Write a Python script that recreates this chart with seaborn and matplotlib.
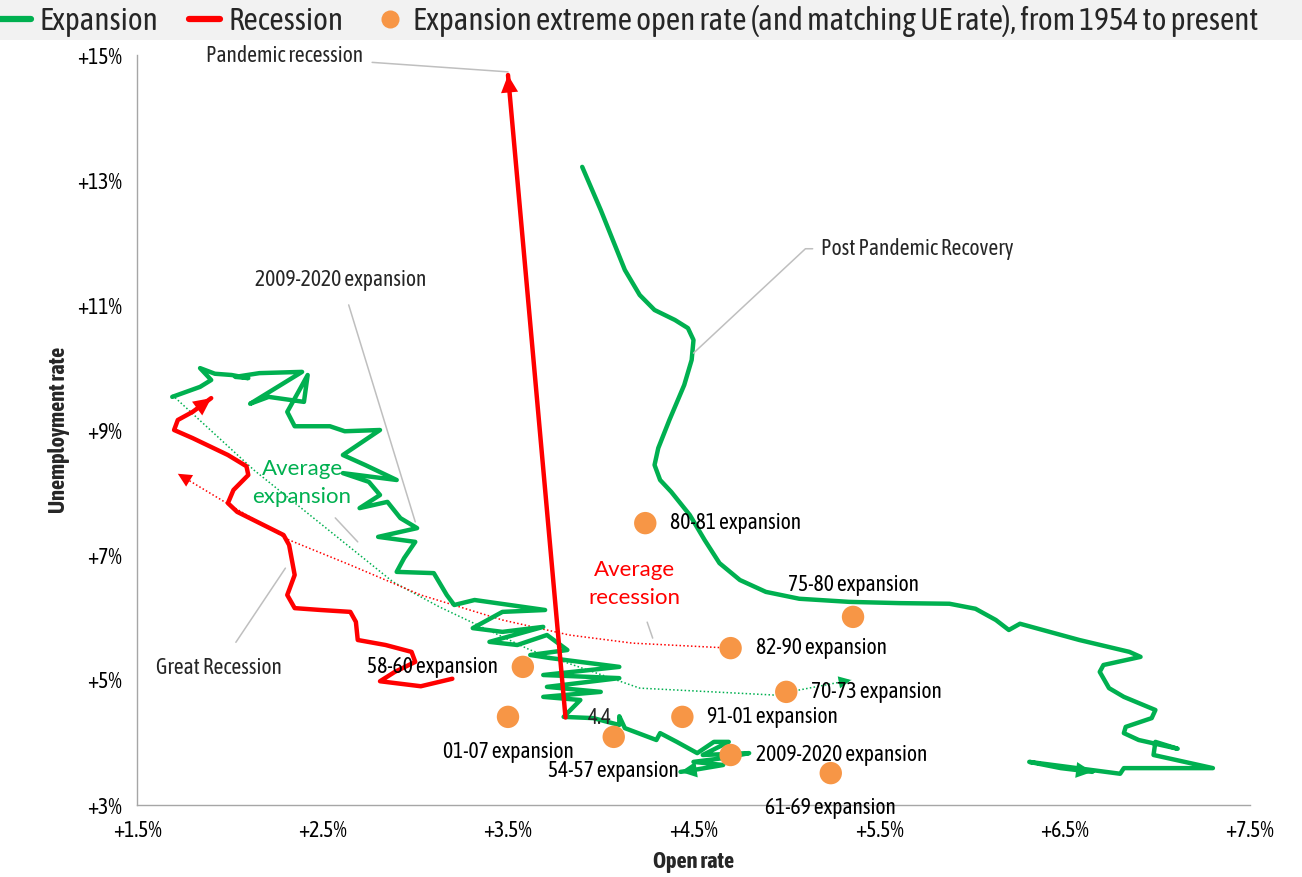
import matplotlib
matplotlib.use("Agg")
import matplotlib.pyplot as plt
from matplotlib import font_manager
from matplotlib.lines import Line2D
from matplotlib.patches import Rectangle
import seaborn as sns

# ---------------- data ----------------
# 2009-2020 expansion (open rate %, unemployment rate %)
exp0920_open = [1.69, 1.84, 1.90, 1.84, 1.92, 2.01, 2.10, 2.03, 2.16, 2.39, 2.11, 2.21, 2.40, 2.42,
                2.37, 2.31, 2.35, 2.54, 2.62, 2.81, 2.61, 2.73, 2.90, 2.61, 2.75, 2.81, 2.70, 2.85,
                2.92, 3.01, 2.80, 3.00, 2.94, 2.90, 3.10, 3.17, 3.21, 3.32, 3.70, 3.47, 3.31, 3.47,
                3.69, 3.40, 3.55, 3.71, 3.82, 3.62, 3.73, 4.10, 3.69, 4.10, 3.71, 4.00, 3.69, 3.89,
                3.80, 3.96, 4.10, 4.10, 4.13, 4.30, 4.32, 4.41, 4.52, 4.61, 4.69, 4.55, 4.80, 4.66,
                4.50, 4.66, 4.50, 4.43]
exp0920_ue = [9.53, 9.69, 9.80, 9.99, 9.90, 9.88, 9.83, 9.85, 9.91, 9.93, 9.42, 9.53, 9.45, 9.88,
              9.61, 9.29, 9.06, 9.06, 8.98, 9.00, 8.60, 8.44, 8.20, 8.31, 8.17, 7.96, 7.75, 7.85,
              7.59, 7.43, 7.29, 7.21, 6.95, 6.73, 6.71, 6.36, 6.20, 6.28, 6.12, 6.09, 5.83, 5.77,
              5.85, 5.61, 5.56, 5.72, 5.48, 5.40, 5.35, 5.21, 5.08, 5.03, 4.89, 4.81, 4.73, 4.68,
              4.41, 4.39, 4.28, 4.42, 4.23, 4.04, 4.15, 4.01, 3.83, 4.01, 4.01, 3.80, 3.83, 3.75,
              3.69, 3.64, 3.56, 3.53]

# Post-pandemic recovery
post_open = [3.90, 4.00, 4.13, 4.21, 4.29, 4.40, 4.47, 4.50, 4.49, 4.45, 4.37, 4.31, 4.29, 4.32,
             4.38, 4.48, 4.56, 4.64, 4.75, 4.89, 5.07, 5.34, 5.61, 5.88, 6.02, 6.13, 6.20, 6.26,
             6.58, 6.85, 6.91, 6.71, 6.69, 6.74, 6.82, 6.99, 6.97, 6.83, 6.82, 6.90, 7.11, 6.99,
             6.98, 7.30, 6.82, 6.80, 6.31, 6.48, 6.65]
post_ue = [13.21, 12.52, 11.56, 11.16, 10.92, 10.76, 10.63, 10.44, 10.12, 9.72, 9.16, 8.71, 8.44,
           8.20, 8.01, 7.64, 7.24, 6.87, 6.60, 6.41, 6.30, 6.25, 6.23, 6.22, 6.14, 5.96, 5.80,
           5.90, 5.64, 5.45, 5.37, 5.24, 5.13, 4.87, 4.73, 4.52, 4.39, 4.25, 4.15, 4.04, 3.90,
           4.01, 3.80, 3.59, 3.59, 3.50, 3.69, 3.59, 3.53]

# Great Recession
great_open = [3.20, 3.03, 2.81, 2.89, 3.00, 2.98, 2.84, 2.69, 2.68, 2.65, 2.49, 2.35, 2.31, 2.35,
              2.32, 2.29, 2.04, 1.99, 2.02, 2.10, 2.09, 1.99, 1.80, 1.70, 1.72, 1.80, 1.90]
great_ue = [5.02, 4.90, 4.98, 5.13, 5.29, 5.45, 5.56, 5.64, 5.93, 6.09, 6.12, 6.15, 6.36, 6.68,
            7.16, 7.32, 7.69, 7.83, 8.04, 8.28, 8.42, 8.60, 8.87, 9.00, 9.16, 9.29, 9.51]

# Pandemic recession
pand_open = [3.81, 3.50]
pand_ue = [4.4, 14.68]

# Average paths
avg_exp_open = [1.69, 2.13, 2.88, 3.13, 3.62, 4.21, 4.93, 5.35]
avg_exp_ue = [9.56, 8.36, 6.57, 6.17, 5.48, 4.87, 4.76, 5.00]
avg_rec_open = [4.70, 4.17, 3.83, 3.47, 3.03, 2.65, 2.32, 2.00, 1.72]
avg_rec_ue = [5.51, 5.59, 5.72, 5.96, 6.36, 6.84, 7.24, 7.80, 8.30]

# Expansion extremes
ext_names = ["80-81 expansion", "75-80 expansion", "82-90 expansion", "58-60 expansion",
             "70-73 expansion", "01-07 expansion", "91-01 expansion", "54-57 expansion",
             "2009-2020 expansion", "61-69 expansion"]
ext_open = [4.24, 5.36, 4.70, 3.58, 5.00, 3.50, 4.44, 4.07, 4.70, 5.24]
ext_ue = [7.51, 6.01, 5.51, 5.21, 4.81, 4.41, 4.41, 4.09, 3.80, 3.51]

x_ticks = [1.5, 2.5, 3.5, 4.5, 5.5, 6.5, 7.5]
x_tick_labels = ["+1.5%", "+2.5%", "+3.5%", "+4.5%", "+5.5%", "+6.5%", "+7.5%"]
y_ticks = [3, 5, 7, 9, 11, 13, 15]
y_tick_labels = ["+3%", "+5%", "+7%", "+9%", "+11%", "+13%", "+15%"]

legend_labels = ["Expansion", "Recession",
                 "Expansion extreme open rate (and matching UE rate), from 1954 to present"]

# ---------------- style ----------------
GREEN = "#00b050"
RED = "#ff0000"
ORANGE = "#f79646"
GRAY = "#bfbfbf"
AXIS = "#a6a6a6"
FS = 15.5          # general text size

sns.set_theme(style="white")


def pick_narrow_font():
    """Prefer a narrow / condensed sans face if one is installed."""
    fl = font_manager.fontManager.ttflist
    for f in fl:
        if "Narrow" in f.name and "Liberation" in f.name:
            return f.name, "normal"
    for f in fl:
        if f.name.endswith("Condensed") and "Extra" not in f.name and "Semi" not in f.name:
            return f.name, "normal"
    for f in fl:
        if f.name == "Noto Sans" and str(f.stretch) == "condensed":
            return "Noto Sans", "condensed"
    for f in fl:
        if f.name == "DejaVu Sans" and str(f.stretch) in ("condensed", "semi-condensed"):
            return "DejaVu Sans", f.stretch
    return "Liberation Sans", "normal"


NARROW, STRETCH = pick_narrow_font()
plt.rcParams["font.family"] = [NARROW, "DejaVu Sans"]
plt.rcParams["font.stretch"] = STRETCH
ROUND_FONT = ["Lato", "DejaVu Sans"]

W, H = 1302, 877
fig = plt.figure(figsize=(W / 100, H / 100), dpi=100, facecolor="white")
ax = fig.add_axes([137 / W, 1 - 805 / H, (1250 - 137) / W, (805 - 55) / H])
ax.set_facecolor("white")

# gray legend band
fig.add_artist(Rectangle((0, 1 - 40 / H), 1, 40 / H, transform=fig.transFigure,
                         facecolor="#f2f2f2", edgecolor="none", zorder=0))

line_kw = dict(sort=False, estimator=None, ax=ax, legend=False,
               solid_capstyle="round", solid_joinstyle="round")

# average paths (thin dotted)
sns.lineplot(x=avg_exp_open, y=avg_exp_ue, color=GREEN, lw=1.1, linestyle=(0, (1, 1.5)), **line_kw)
sns.lineplot(x=avg_rec_open, y=avg_rec_ue, color=RED, lw=1.1, linestyle=(0, (1, 1.5)), **line_kw)

# expansions
sns.lineplot(x=exp0920_open, y=exp0920_ue, color=GREEN, lw=3.2, **line_kw)
sns.lineplot(x=post_open, y=post_ue, color=GREEN, lw=3.2, **line_kw)

# recessions
sns.lineplot(x=great_open, y=great_ue, color=RED, lw=3.2, **line_kw)
sns.lineplot(x=pand_open, y=pand_ue, color=RED, lw=3.2, **line_kw)


def end_arrow(xs, ys, color, scale):
    ax.annotate("", xy=(xs[-1], ys[-1]), xytext=(xs[-2], ys[-2]),
                arrowprops=dict(arrowstyle="-|>,head_length=0.45,head_width=0.22",
                                color=color, lw=0, mutation_scale=scale,
                                shrinkA=0, shrinkB=0))


end_arrow(exp0920_open, exp0920_ue, GREEN, 26)
end_arrow(post_open, post_ue, GREEN, 26)
end_arrow(great_open, great_ue, RED, 28)
end_arrow(pand_open, pand_ue, RED, 28)
end_arrow(avg_exp_open, avg_exp_ue, GREEN, 20)
end_arrow(avg_rec_open, avg_rec_ue, RED, 22)

# extreme points
sns.scatterplot(x=ext_open, y=ext_ue, color=ORANGE, s=260, edgecolor="none", ax=ax,
                legend=False, zorder=5)

label_place = {
    "80-81 expansion": ((25, 0), "left"),
    "75-80 expansion": ((0, 32), "center"),
    "82-90 expansion": ((25, 0), "left"),
    "58-60 expansion": ((-25, 0), "right"),
    "70-73 expansion": ((25, 0), "left"),
    "01-07 expansion": ((0, -35), "center"),
    "91-01 expansion": ((25, 0), "left"),
    "54-57 expansion": ((0, -34), "center"),
    "2009-2020 expansion": ((25, 0), "left"),
    "61-69 expansion": ((0, -35), "center"),
}
for name, xo, yo in zip(ext_names, ext_open, ext_ue):
    off, ha = label_place[name]
    ax.annotate(name, xy=(xo, yo), xytext=off, textcoords="offset pixels",
                ha=ha, va="center", fontsize=FS, color="black", zorder=6)

# value label on start of pandemic recession
ax.annotate(f"{pand_ue[0]:.1f}", xy=(pand_open[0], pand_ue[0]), xytext=(35, 0),
            textcoords="offset pixels", ha="center", va="center", fontsize=FS)

# callouts with leader lines
lead = dict(arrowstyle="-", color=GRAY, lw=1.1, shrinkA=4, shrinkB=0)
ax.annotate("Pandemic recession", xy=(3.50, 14.73), xytext=(2.72, 14.98),
            ha="right", va="center", fontsize=FS, arrowprops=lead)
ax.annotate("Post Pandemic Recovery", xy=(4.50, 10.23), xytext=(5.19, 11.90),
            ha="left", va="center", fontsize=FS,
            arrowprops=dict(lead, connectionstyle="angle,angleA=180,angleB=43,rad=0"))
ax.annotate("2009-2020 expansion", xy=(3.00, 7.53), xytext=(2.60, 11.40),
            ha="center", va="center", fontsize=FS, arrowprops=dict(lead, shrinkA=8))
ax.annotate("Great Recession", xy=(2.30, 6.79), xytext=(1.94, 5.19),
            ha="center", va="center", fontsize=FS, arrowprops=dict(lead, shrinkA=10))
ax.annotate("Average\nexpansion", xy=(2.69, 7.21), xytext=(2.39, 8.16),
            ha="center", va="center", fontsize=16, color=GREEN, family=ROUND_FONT,
            linespacing=1.5, arrowprops=dict(lead, shrinkA=8))
ax.annotate("Average\nrecession", xy=(4.28, 5.67), xytext=(4.18, 6.53),
            ha="center", va="center", fontsize=16, color=RED, family=ROUND_FONT,
            linespacing=1.5, arrowprops=dict(lead, shrinkA=8))

# axes
ax.set_xlim(1.5, 7.5)
ax.set_ylim(3, 15)
ax.set_xticks(x_ticks, x_tick_labels, fontsize=FS)
ax.set_yticks(y_ticks, y_tick_labels, fontsize=FS)
ax.tick_params(axis="both", which="major", direction="out", length=5, width=1,
               color=AXIS, pad=6, labelcolor="black")
for side in ("top", "right"):
    ax.spines[side].set_visible(False)
for side in ("left", "bottom"):
    ax.spines[side].set_color(AXIS)
    ax.spines[side].set_linewidth(1)
ax.grid(False)
ax.set_xlabel("Open rate", fontsize=16, fontweight="bold", labelpad=6)
ax.set_ylabel("Unemployment rate", fontsize=16, fontweight="bold", labelpad=5)

# legend in the top band; shrink the font until it fits the figure width
handles = [Line2D([], [], color=GREEN, lw=4.5),
           Line2D([], [], color=RED, lw=4.5),
           Line2D([], [], color=ORANGE, marker="o", ms=13, lw=0, markeredgewidth=0)]
renderer = fig.canvas.get_renderer()
size = 23.0
while True:
    leg = fig.legend(handles, legend_labels, loc="center left",
                     bbox_to_anchor=(0.0, 1 - 21 / H), ncol=3, frameon=False,
                     fontsize=size, handlelength=1.0, handletextpad=0.25,
                     columnspacing=1.0, borderaxespad=0, borderpad=0)
    bb = leg.get_window_extent(renderer)
    if bb.x1 <= W - 20 or size <= 10:
        break
    leg.remove()
    size -= 0.5

fig.savefig("out.png", dpi=100, facecolor="white")
